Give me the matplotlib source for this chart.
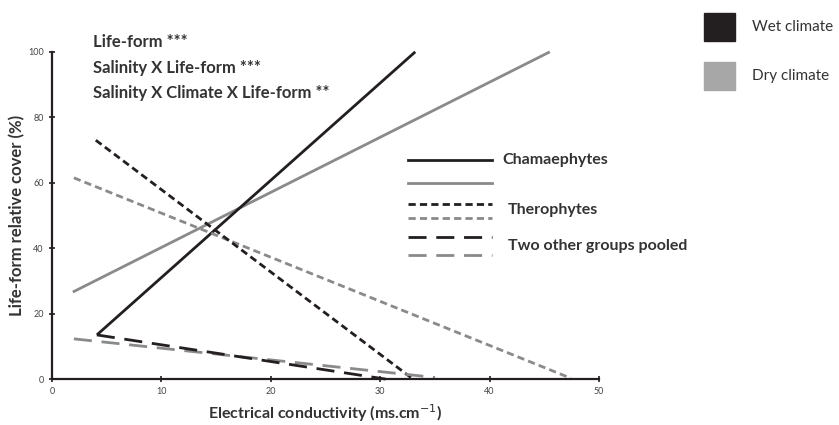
import matplotlib.pyplot as plt
from matplotlib.lines import Line2D
from matplotlib.patches import Rectangle

# fitted regression lines (start / end points)
cham_wet_x = [4.1, 33.2]
cham_wet_y = [13.5, 100]
cham_dry_x = [1.9, 45.5]
cham_dry_y = [26.6, 100]
thero_wet_x = [4.0, 33.0]
thero_wet_y = [73.0, 0.0]
thero_dry_x = [2.0, 47.4]
thero_dry_y = [61.5, 0.3]
other_wet_x = [4.1, 30.5]
other_wet_y = [13.5, 0.0]
other_dry_x = [2.0, 35.0]
other_dry_y = [12.3, 0.5]

stats_lines = ["Life-form ***", "Salinity X Life-form ***",
               "Salinity X Climate X Life-form **"]
group_names = ["Chamaephytes", "Therophytes", "Two other groups pooled"]
climate_names = ["Wet climate", "Dry climate"]

wet = "#231f20"
dry = "#8a8a8a"
txt = "#333333"
short = (2.6, 1.5)
long_ = (6.5, 3.5)

plt.rcParams['font.family'] = ['Lato', 'DejaVu Sans']

fig = plt.figure(figsize=(8.39, 4.25), dpi=100)
ax = fig.add_axes([0.062, 0.108, 0.652, 0.77])

ax.plot(cham_dry_x, cham_dry_y, color=dry, lw=2.0, clip_on=False, solid_capstyle='butt')
ax.plot(cham_wet_x, cham_wet_y, color=wet, lw=2.0, clip_on=False, solid_capstyle='butt')
ax.plot(thero_dry_x, thero_dry_y, color=dry, lw=2.0, dashes=short, clip_on=False)
ax.plot(thero_wet_x, thero_wet_y, color=wet, lw=2.0, dashes=short, clip_on=False)
ax.plot(other_dry_x, other_dry_y, color=dry, lw=2.0, dashes=long_, clip_on=False)
ax.plot(other_wet_x, other_wet_y, color=wet, lw=2.0, dashes=long_, clip_on=False)

ax.set_xlim(0, 50)
ax.set_ylim(0, 100)
ax.set_xticks(range(0, 51, 10))
ax.set_yticks(range(0, 101, 20))
for s in ["top", "right"]:
    ax.spines[s].set_visible(False)
for s in ["left", "bottom"]:
    ax.spines[s].set_linewidth(1.6)
    ax.spines[s].set_color(wet)
ax.tick_params(direction="inout", length=5, width=1.2, labelsize=6.5,
               labelcolor="#444444", color=wet)
ax.set_xlabel("Electrical conductivity (ms.cm$^{-1}$)", fontsize=11.5,
              fontweight="bold", color=txt, labelpad=4)
ax.set_ylabel("Life-form relative cover (%)", fontsize=12,
              fontweight="bold", color=txt, labelpad=2)

# significance text
for i, s in enumerate(stats_lines):
    fig.text(93 / 839, 1 - (42 + i * 25.5) / 425, s, fontsize=12,
             fontweight="bold", color=txt, va="center", ha="left")

# line-style legend
styles = [None, short, long_]
rows = [(160, 183), (204, 218), (237, 255)]
label_y = [160, 210, 246]
label_x = [502, 508, 508]
for name, st, (yw, yd), ly, lx in zip(group_names, styles, rows, label_y, label_x):
    for yy, c in [(yw, wet), (yd, dry)]:
        ln = Line2D([408 / 839, 492 / 839], [1 - yy / 425, 1 - yy / 425],
                    transform=fig.transFigure, color=c, lw=2.0)
        if st is not None:
            ln.set_dashes(st)
        fig.add_artist(ln)
    fig.text(lx / 839, 1 - ly / 425, name, fontsize=11.5, fontweight="bold",
             color=txt, va="center", ha="left")

# climate legend
for name, c, yc in zip(climate_names, [wet, "#a7a7a7"], [27, 76]):
    fig.add_artist(Rectangle((704 / 839, 1 - (yc + 14) / 425), 31 / 839, 28 / 425,
                             transform=fig.transFigure, color=c))
    fig.text(752 / 839, 1 - yc / 425, name, fontsize=11, color=txt,
             va="center", ha="left")

fig.savefig("out.png", dpi=100)
